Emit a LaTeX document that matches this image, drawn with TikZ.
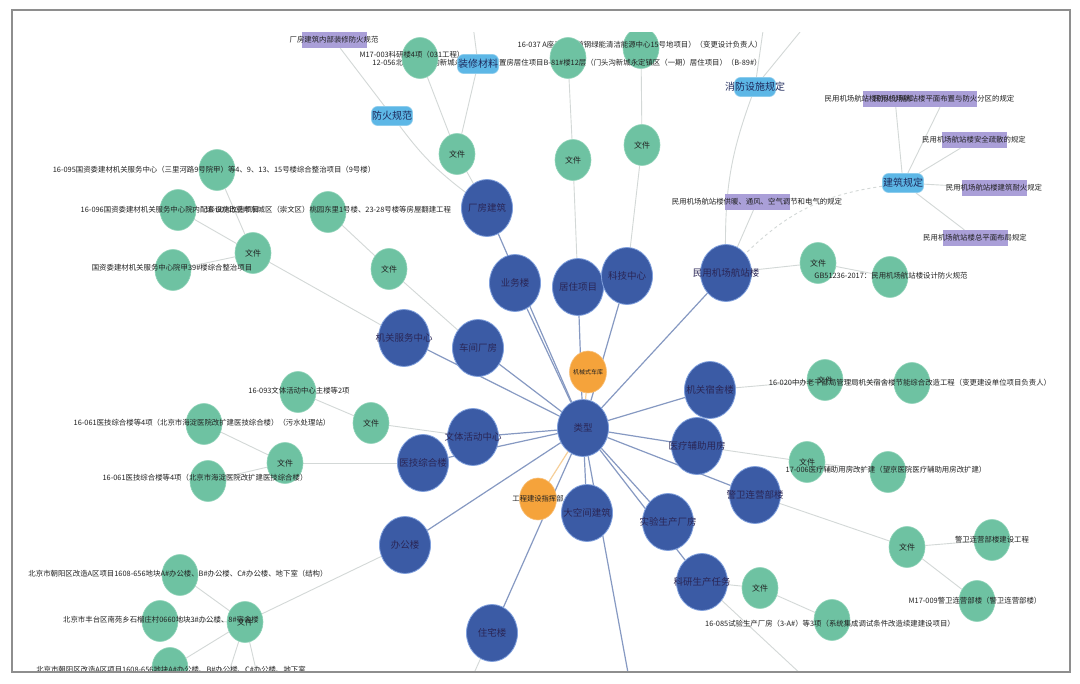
\documentclass[tikz,border=0pt]{standalone}
\usepackage{fontspec}
\setmainfont{Noto Sans CJK SC}
\usetikzlibrary{shapes.geometric}
\pgfdeclarelayer{bg}
\pgfsetlayers{bg,main}
\definecolor{nodeblue}{HTML}{3B5BA5}
\definecolor{bluerim}{HTML}{7F9FDC}
\definecolor{bluetxt}{HTML}{2A2656}
\definecolor{leafgreen}{HTML}{6EC2A2}
\definecolor{greenrim}{HTML}{8FD3B8}
\definecolor{orangefill}{HTML}{F5A33B}
\definecolor{orangerim}{HTML}{F8C07A}
\definecolor{purp}{HTML}{AA9FD8}
\definecolor{lightb}{HTML}{5DB7E6}
\definecolor{lbtext}{HTML}{1E2A5C}
\definecolor{edgeblue}{HTML}{8699C2}
\definecolor{edgegray}{HTML}{D3D8D7}
\definecolor{edgeorange}{HTML}{F6CF99}
\definecolor{framegray}{HTML}{8E8E8E}
\definecolor{labtxt}{HTML}{222222}
\tikzset{
  bnode/.style={ellipse, fill=nodeblue, draw=bluerim, line width=0.8pt, minimum width=51pt, minimum height=57pt, inner sep=0pt},
  btxt/.style={inner sep=0pt, font=\fontsize{9.5}{10}\selectfont, text=bluetxt},
  gnode/.style={ellipse, fill=leafgreen, draw=greenrim, line width=0.6pt, minimum width=36pt, minimum height=41pt, inner sep=0pt},
  ftxt/.style={inner sep=0pt, font=\fontsize{8}{9}\selectfont, text=labtxt},
  onode/.style={ellipse, fill=orangefill, draw=orangerim, line width=0.6pt, minimum width=37pt, minimum height=42pt, inner sep=0pt},
  lbl/.style={inner sep=0pt, font=\fontsize{7.4}{8}\selectfont, text=labtxt},
  pbox/.style={rectangle, fill=purp, minimum width=65pt, minimum height=16pt, inner sep=0pt},
  lbbox/.style={rectangle, rounded corners=6pt, fill=lightb, draw=lightb!70, line width=0.6pt, minimum width=41pt, minimum height=19pt, inner sep=0pt},
  lbtxt/.style={inner sep=0pt, font=\fontsize{10}{11}\selectfont, text=lbtext},
  cedge/.style={draw=edgeblue, line width=1.2pt},
  oedge/.style={draw=edgeorange, line width=1.2pt},
  gedge/.style={draw=edgegray, line width=0.9pt},
}
\newcommand\plab[3]{\node[pbox] (#1) at (#2) {}; \node[lbl] (#1t) at (#2) {#3};}
\newcommand\lbb[3]{\node[lbbox] (#1) at (#2) {}; \node[lbtxt] (#1t) at (#2) {#3};}
\begin{document}
\begin{tikzpicture}[x=1pt,y=-1pt]
\useasboundingbox (0,0) rectangle (1080,684);
\begin{pgfonlayer}{bg}
\fill[white] (0,0) rectangle (1080,684);
\end{pgfonlayer}

\begin{scope}
\clip (13,33) rectangle (1069,671);
% off-canvas ends
\coordinate (t1) at (471,10);
\coordinate (t2) at (766,10);
\coordinate (t3) at (818,10);
\coordinate (d1) at (633,700);
\coordinate (d2) at (462,700);
\coordinate (d3) at (818,690);
\coordinate (d4) at (220,700);
\coordinate (d5) at (263,700);

% top leaves
\node[gnode] (gt3) at (641,48) {};
\node[lbl] (lt3) at (640,45) {16-037 A座工程（首钢绿能清洁能源中心15号地项目）（变更设计负责人）};
\node[gnode] (gt2) at (568,58) {};
\node[lbl] (lt2) at (567,63) {12-056北京市门头沟新城永定镇定向安置房居住项目B-81\#楼12层（门头沟新城永定镇区（一期）居住项目）（B-89\#）};
\node[gnode] (gt1) at (420,58) {};
\node[lbl] (lt1) at (412,55) {M17-003科研楼4项（031工程）};

% file nodes
\node[gnode, label={[ftxt]center:文件}] (f1) at (457,154) {};
\node[gnode, label={[ftxt]center:文件}] (f2) at (573,160) {};
\node[gnode, label={[ftxt]center:文件}] (f3) at (642,145) {};
\node[gnode, label={[ftxt]center:文件}] (f4) at (253,253) {};
\node[gnode, label={[ftxt]center:文件}] (f5) at (389,269) {};
\node[gnode, label={[ftxt]center:文件}] (f6) at (371,423) {};
\node[gnode, label={[ftxt]center:文件}] (f7) at (285,463) {};
\node[gnode, label={[ftxt]center:文件}] (f8) at (818,263) {};
\node[gnode, label={[ftxt]center:文件}] (f9) at (825,380) {};
\node[gnode, label={[ftxt]center:文件}] (f10) at (807,462) {};
\node[gnode, label={[ftxt]center:文件}] (f11) at (907,547) {};
\node[gnode, label={[ftxt]center:文件}] (f12) at (760,588) {};
\node[gnode, label={[ftxt]center:文件}] (f13) at (245,622) {};

% left leaves
\node[gnode] (gl1) at (217,170) {};
\node[gnode] (gl2) at (178,210) {};
\node[gnode] (gl3) at (328,212) {};
\node[gnode] (gl4) at (173,270) {};
\node[gnode] (gl5) at (298,392) {};
\node[gnode] (gl6) at (204,424) {};
\node[gnode] (gl7) at (208,481) {};
\node[gnode] (gl8) at (180,575) {};
\node[gnode] (gl9) at (160,621) {};
\node[gnode] (gl10) at (170,668) {};
\node[lbl] (ll1) at (214,170) {16-095国资委建材机关服务中心（三里河路9号院甲）等4、9、13、15号楼综合整治项目（9号楼）};
\node[lbl] (ll2) at (170,210) {16-096国资委建材机关服务中心院内配套设施改造项目};
\node[lbl] (ll3) at (328,210) {16-007北京市东城区（崇文区）桃园东里1号楼、23-28号楼等房屋翻建工程};
\node[lbl] (ll4) at (172,268) {国资委建材机关服务中心院甲39\#楼综合整治项目};
\node[lbl] (ll5) at (299,391) {16-093文体活动中心主楼等2项};
\node[lbl] (ll6) at (202,423) {16-061医技综合楼等4项（北京市海淀医院改扩建医技综合楼）（污水处理站）};
\node[lbl] (ll7) at (205,478) {16-061医技综合楼等4项（北京市海淀医院改扩建医技综合楼）};
\node[lbl] (ll8) at (178,574) {北京市朝阳区改造A区项目1608-656地块A\#办公楼、B\#办公楼、C\#办公楼、地下室（结构）};
\node[lbl] (ll9) at (161,620) {北京市丰台区南苑乡石榴庄村0660地块3\#办公楼、8\#宿舍楼};
\node[lbl] (ll10) at (171,670) {北京市朝阳区改造A区项目1608-656地块A\#办公楼、B\#办公楼、C\#办公楼、地下室};

% right leaves
\node[gnode] (gr1) at (890,277) {};
\node[gnode] (gr2) at (912,383) {};
\node[gnode] (gr3) at (888,472) {};
\node[gnode] (gr4) at (992,540) {};
\node[gnode] (gr5) at (977,601) {};
\node[gnode] (gr6) at (832,620) {};
\node[lbl] (lr1) at (891,276) {GB51236-2017：民用机场航站楼设计防火规范};
\node[lbl] (lr2) at (910,383) {16-020中办老干部局管理局机关宿舍楼节能综合改造工程（变更建设单位项目负责人）};
\node[lbl] (lr3) at (886,470) {17-006医疗辅助用房改扩建（望京医院医疗辅助用房改扩建）};
\node[lbl] (lr4) at (992,540) {警卫连营部楼建设工程};
\node[lbl] (lr5) at (975,601) {M17-009警卫连营部楼（警卫连营部楼）};
\node[lbl] (lr6) at (830,624) {16-085试验生产厂房（3-A\#）等3项（系统集成调试条件改造续建建设项目）};

% regulation labels
\plab{p0}{334,40}{厂房建筑内部装修防火规范}
\plab{pa}{895,99}{民用机场航站楼防火分隔和防烟分区的规定}
\plab{pb}{944,99}{民用机场航站楼平面布置与防火分区的规定}
\plab{pc}{974,140}{民用机场航站楼安全疏散的规定}
\plab{pd}{994,188}{民用机场航站楼建筑耐火规定}
\plab{pe}{975,238}{民用机场航站楼总平面布局规定}
\plab{pf}{757,202}{民用机场航站楼供暖、通风、空气调节和电气的规定}
\lbb{lb1}{478,64}{装修材料}
\lbb{lb2}{392,116}{防火规范}
\lbb{lb3}{755,87}{消防设施规定}
\lbb{lb4}{903,183}{建筑规定}

% blue category nodes
\node[bnode, label={[btxt]center:厂房建筑}] (b1) at (487,208) {};
\node[bnode, label={[btxt]center:业务楼}] (b2) at (515,283) {};
\node[bnode, label={[btxt]center:居住项目}] (b3) at (578,287) {};
\node[bnode, label={[btxt]center:科技中心}] (b4) at (627,276) {};
\node[bnode, label={[btxt]center:民用机场航站楼}] (b5) at (726,273) {};
\node[bnode, label={[btxt]center:机关服务中心}] (b6) at (404,338) {};
\node[bnode, label={[btxt]center:车间厂房}] (b7) at (478,348) {};
\node[bnode, label={[btxt]center:机关宿舍楼}] (b8) at (710,390) {};
\node[bnode, label={[btxt]center:文体活动中心}] (b9) at (473,437) {};
\node[bnode, label={[btxt]center:医技综合楼}] (b10) at (423,463) {};
\node[bnode, label={[btxt]center:医疗辅助用房}] (b11) at (697,446) {};
\node[bnode, label={[btxt]center:警卫连营部楼}] (b12) at (755,495) {};
\node[bnode, label={[btxt]center:大空间建筑}] (b13) at (587,513) {};
\node[bnode, label={[btxt]center:实验生产厂房}] (b14) at (668,522) {};
\node[bnode, label={[btxt]center:科研生产任务}] (b15) at (702,582) {};
\node[bnode, label={[btxt]center:办公楼}] (b16) at (405,545) {};
\node[bnode, label={[btxt]center:住宅楼}] (b17) at (492,633) {};
\node[onode, label={[inner sep=0pt, font=\fontsize{6}{7}\selectfont, text=labtxt]center:机械式车库}] (o1) at (588,372) {};
\node[onode, label={[inner sep=0pt, font=\fontsize{7.3}{8}\selectfont, text=labtxt]center:工程建设指挥部}] (o2) at (538,499) {};
\node[bnode, label={[btxt]center:类型}] (c) at (583,428) {};
\end{scope}

\begin{pgfonlayer}{bg}
\begin{scope}
\clip (13,33) rectangle (1069,671);
\foreach \n in {b1,b2,b3,b4,b5,b6,b7,b8,b9,b10,b11,b12,b13,b14,b15,b16,b17,d1}
  \draw[cedge] (c) -- (\n);
\draw[oedge] (c) -- (o1);
\draw[oedge] (c) -- (o2);
% top
\draw[gedge] (b1) -- (f1);
\draw[gedge] (f1) -- (gt1);
\draw[gedge] (f1) -- (lb1);
\draw[gedge] (lb1) -- (t1);
\draw[gedge] (b1) to[bend left=8] (lb2);
\draw[gedge] (lb2) -- (p0);
\draw[gedge] (b3) -- (f2);
\draw[gedge] (f2) -- (gt2);
\draw[gedge] (b4) -- (f3);
\draw[gedge] (f3) -- (gt3);
% airport
\draw[gedge] (b5) to[bend left=10] (lb3);
\draw[gedge] (lb3) -- (t2);
\draw[gedge] (lb3) -- (t3);
\draw[gedge] (b5) -- (pf);
\draw[gedge] (b5) -- (f8);
\draw[gedge] (f8) -- (gr1);
\draw[gedge, dashed] (lb4) to[bend right=18] (b5);
\draw[gedge] (lb4) -- (pa);
\draw[gedge] (lb4) -- (pb);
\draw[gedge] (lb4) -- (pc);
\draw[gedge] (lb4) -- (pd);
\draw[gedge] (lb4) -- (pe);
% right
\draw[gedge] (b8) -- (f9);
\draw[gedge] (f9) -- (gr2);
\draw[gedge] (b11) -- (f10);
\draw[gedge] (f10) -- (gr3);
\draw[gedge] (b12) -- (f11);
\draw[gedge] (f11) -- (gr4);
\draw[gedge] (f11) -- (gr5);
\draw[gedge] (b15) -- (f12);
\draw[gedge] (f12) -- (gr6);
\draw[gedge] (b15) -- (d3);
% left
\draw[gedge] (b6) -- (f4);
\draw[gedge] (f4) -- (gl1);
\draw[gedge] (f4) -- (gl2);
\draw[gedge] (f4) -- (gl4);
\draw[gedge] (b7) -- (f5);
\draw[gedge] (f5) -- (gl3);
\draw[gedge] (b9) -- (f6);
\draw[gedge] (f6) -- (gl5);
\draw[gedge] (b10) -- (f7);
\draw[gedge] (f7) -- (gl6);
\draw[gedge] (f7) -- (gl7);
\draw[gedge] (b16) -- (f13);
\draw[gedge] (f13) -- (gl8);
\draw[gedge] (f13) -- (gl9);
\draw[gedge] (f13) -- (gl10);
\draw[gedge] (f13) -- (d4);
\draw[gedge] (f13) -- (d5);
\draw[gedge] (b17) -- (d2);
\end{scope}
\end{pgfonlayer}

\draw[framegray, line width=1.3pt] (12,10) rectangle (1070,672);
\end{tikzpicture}
\end{document}
